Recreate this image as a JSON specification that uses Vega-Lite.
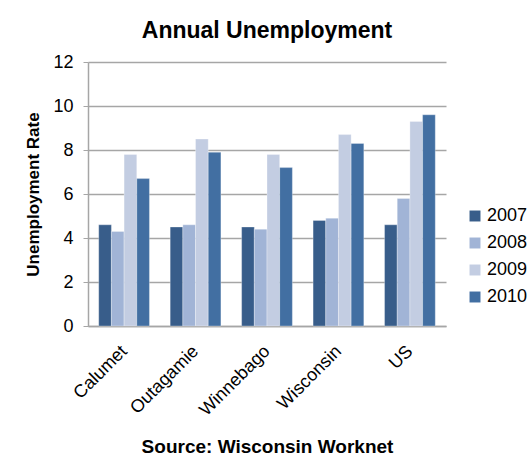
{
  "$schema": "https://vega.github.io/schema/vega-lite/v6.json",
  "width": 358,
  "height": 264,
  "autosize": {"type": "none"},
  "padding": {"left": 88, "top": 62, "right": 86, "bottom": 143},
  "background": "white",
  "title": {
    "text": "Annual Unemployment",
    "font": "Liberation Sans",
    "fontSize": 23,
    "fontWeight": "bold",
    "color": "black",
    "anchor": "middle",
    "offset": 10
  },
  "data": {
    "values": [
      {"region": "Calumet", "year": "2007", "rate": 4.6},
      {"region": "Calumet", "year": "2008", "rate": 4.3},
      {"region": "Calumet", "year": "2009", "rate": 7.8},
      {"region": "Calumet", "year": "2010", "rate": 6.7},
      {"region": "Outagamie", "year": "2007", "rate": 4.5},
      {"region": "Outagamie", "year": "2008", "rate": 4.6},
      {"region": "Outagamie", "year": "2009", "rate": 8.5},
      {"region": "Outagamie", "year": "2010", "rate": 7.9},
      {"region": "Winnebago", "year": "2007", "rate": 4.5},
      {"region": "Winnebago", "year": "2008", "rate": 4.4},
      {"region": "Winnebago", "year": "2009", "rate": 7.8},
      {"region": "Winnebago", "year": "2010", "rate": 7.2},
      {"region": "Wisconsin", "year": "2007", "rate": 4.8},
      {"region": "Wisconsin", "year": "2008", "rate": 4.9},
      {"region": "Wisconsin", "year": "2009", "rate": 8.7},
      {"region": "Wisconsin", "year": "2010", "rate": 8.3},
      {"region": "US", "year": "2007", "rate": 4.6},
      {"region": "US", "year": "2008", "rate": 5.8},
      {"region": "US", "year": "2009", "rate": 9.3},
      {"region": "US", "year": "2010", "rate": 9.6}
    ]
  },
  "mark": {"type": "bar", "stroke": "white", "strokeWidth": 0.5, "strokeOpacity": 0.6},
  "encoding": {
    "x": {
      "field": "region",
      "type": "nominal",
      "sort": ["Calumet", "Outagamie", "Winnebago", "Wisconsin", "US"],
      "scale": {"paddingInner": 0.29, "paddingOuter": 0.15},
      "axis": {
        "title": "Source: Wisconsin Worknet",
        "titleFont": "Liberation Sans",
        "titleFontSize": 19,
        "titleFontWeight": "bold",
        "titleColor": "black",
        "titlePadding": 18,
        "labelAngle": -45,
        "labelFont": "Liberation Sans",
        "labelFontSize": 18,
        "labelColor": "black",
        "labelPadding": 16,
        "labelOffset": -6,
        "ticks": false,
        "domainColor": "#a6a6a6",
        "domainWidth": 1.5,
        "grid": false
      }
    },
    "xOffset": {
      "field": "year",
      "type": "nominal",
      "scale": {"paddingInner": 0, "paddingOuter": 0}
    },
    "y": {
      "field": "rate",
      "type": "quantitative",
      "scale": {"domain": [0, 12]},
      "axis": {
        "title": "Unemployment Rate",
        "titleFont": "Liberation Sans",
        "titleFontSize": 17,
        "titleFontWeight": "bold",
        "titleColor": "black",
        "titlePadding": 10,
        "values": [0, 2, 4, 6, 8, 10, 12],
        "labelFont": "Liberation Sans",
        "labelFontSize": 18,
        "labelColor": "black",
        "labelPadding": 10,
        "tickSize": 5,
        "tickColor": "#a6a6a6",
        "domainColor": "#a6a6a6",
        "domainWidth": 1.5,
        "gridColor": "#a6a6a6",
        "gridWidth": 1.3
      }
    },
    "color": {
      "field": "year",
      "type": "nominal",
      "scale": {
        "domain": ["2007", "2008", "2009", "2010"],
        "range": ["#385D8A", "#A1B4D6", "#C3CDE2", "#426FA2"]
      },
      "legend": {
        "title": null,
        "orient": "none",
        "legendX": 378,
        "legendY": 145,
        "symbolType": "square",
        "symbolSize": 120,
        "symbolStrokeWidth": 0,
        "labelFont": "Liberation Sans",
        "labelFontSize": 18,
        "labelColor": "black",
        "labelOffset": 3,
        "rowPadding": 9
      }
    }
  },
  "config": {
    "view": {"stroke": null}
  }
}
